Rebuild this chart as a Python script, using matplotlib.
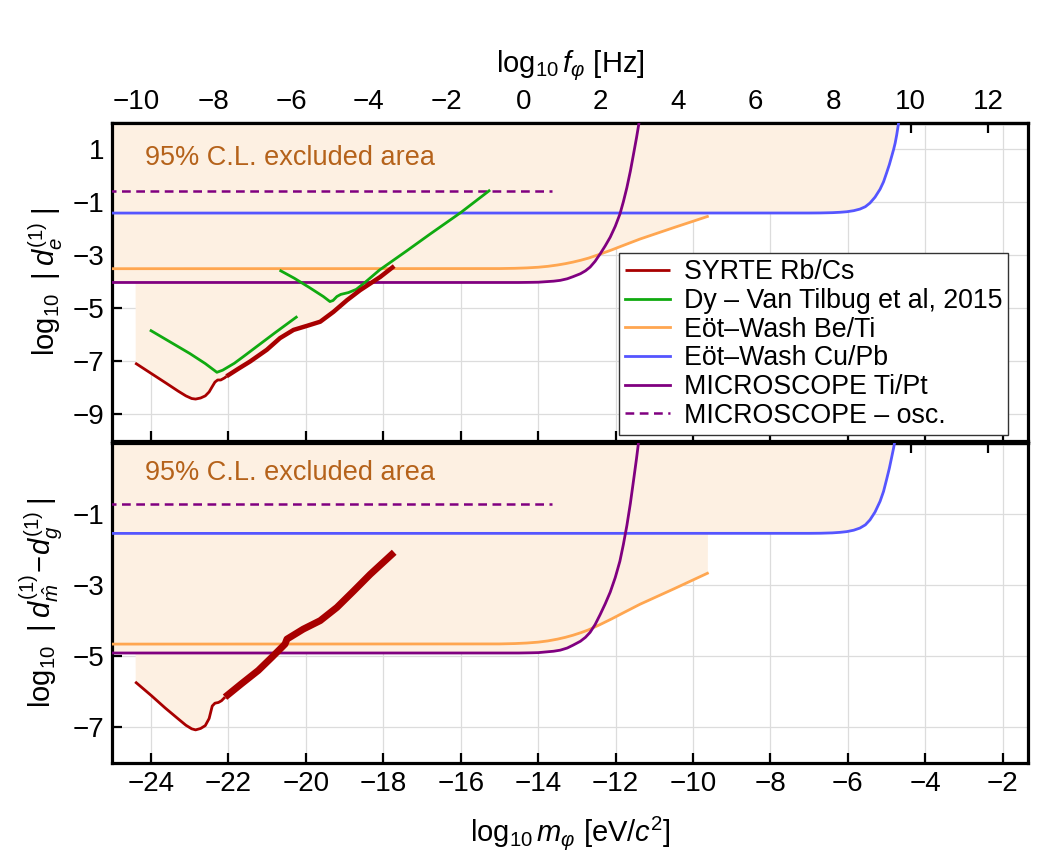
import numpy as np
import matplotlib
matplotlib.use("Agg")
import matplotlib.pyplot as plt

plt.rcParams['font.family'] = ['Liberation Sans', 'DejaVu Sans']
plt.rcParams['mathtext.fontset'] = 'custom'
plt.rcParams['mathtext.rm'] = 'Liberation Sans'
plt.rcParams['mathtext.it'] = 'Liberation Sans:italic'
plt.rcParams['mathtext.bf'] = 'Liberation Sans:bold'

# ---------------- data (log10 m_phi [eV], log10 |coupling|) ----------------
LOG_EV_TO_HZ = 14.383

# top panel : d_e
syrte_e_smooth_m = [-24.41, -24.0, -23.6, -23.3, -23.1, -22.95, -22.85, -22.72, -22.6, -22.5,
                    -22.42, -22.35, -22.28, -22.2, -22.1, -22.05]
syrte_e_smooth_v = [-7.06, -7.45, -7.83, -8.12, -8.30, -8.40, -8.42, -8.38, -8.30, -8.15,
                    -7.95, -7.78, -7.70, -7.70, -7.62, -7.56]
syrte_e_noisy_m = [-22.05, -21.75, -21.44, -21.01, -20.67, -20.32, -19.98, -19.63, -19.29,
                   -18.94, -18.60, -18.08, -17.72]
syrte_e_noisy_v = [-7.56, -7.28, -7.00, -6.56, -6.12, -5.81, -5.66, -5.50, -5.13,
                   -4.69, -4.31, -3.81, -3.40]

dy_left_m = [-24.0, -23.5, -23.0, -22.6, -22.4, -22.3, -22.15, -21.85, -21.6, -21.2, -20.8, -20.25]
dy_left_v = [-5.84, -6.27, -6.70, -7.08, -7.30, -7.41, -7.33, -7.07, -6.80, -6.36, -5.92, -5.33]
dy_right_m = [-20.65, -20.3, -19.9, -19.55, -19.38, -19.3, -19.2, -19.1, -18.9, -18.7, -18.5,
              -18.1, -17.4, -16.8, -16.0, -15.27]
dy_right_v = [-3.58, -3.86, -4.22, -4.55, -4.74, -4.70, -4.55, -4.47, -4.40, -4.28, -4.05,
              -3.55, -2.83, -2.20, -1.38, -0.56]

ew_beti_m = [-25.5, -15.0, -14.6, -14.3, -14.0, -13.75, -13.5, -13.3, -13.1, -12.9, -12.7,
             -12.4, -12.1, -11.8, -11.37, -10.5, -9.63]
ew_beti_e = [-3.50, -3.495, -3.485, -3.47, -3.445, -3.41, -3.36, -3.31, -3.25, -3.18, -3.10,
             -2.95, -2.79, -2.62, -2.38, -1.95, -1.53]
ew_beti_g = [-4.66, -4.655, -4.645, -4.63, -4.605, -4.57, -4.52, -4.47, -4.41, -4.34, -4.26,
             -4.11, -3.95, -3.78, -3.54, -3.11, -2.67]

ew_cupb_m = [-25.5, -7.0, -6.7, -6.4, -6.2, -6.03, -5.85, -5.69, -5.55, -5.43, -5.3, -5.17,
             -5.08, -5.0, -4.93, -4.87, -4.82, -4.78, -4.74, -4.70, -4.66]
ew_cupb_e = [-1.40, -1.398, -1.395, -1.385, -1.37, -1.35, -1.31, -1.25, -1.16, -1.02, -0.80,
             -0.50, -0.22, 0.12, 0.43, 0.74, 1.00, 1.24, 1.55, 1.92, 2.30]
ew_cupb_g = [-1.55, -1.548, -1.545, -1.535, -1.52, -1.50, -1.46, -1.40, -1.31, -1.17, -0.95,
             -0.65, -0.37, -0.03, 0.28, 0.59, 0.85, 1.09, 1.40, 1.77, 2.15]

micro_m = [-25.5, -14.5, -14.2, -14.0, -13.8, -13.6, -13.43, -13.25, -13.1, -12.91, -12.78,
           -12.66, -12.53, -12.40, -12.27, -12.14, -12.01, -11.89, -11.80, -11.71, -11.62,
           -11.54, -11.46, -11.39, -11.33]
micro_e = [-4.02, -4.02, -4.015, -4.01, -3.99, -3.97, -3.94, -3.88, -3.80, -3.69, -3.58,
           -3.44, -3.22, -2.94, -2.64, -2.31, -1.90, -1.44, -0.97, -0.44, 0.18,
           0.81, 1.45, 2.06, 2.55]
micro_g = [-4.91, -4.91, -4.905, -4.90, -4.88, -4.86, -4.83, -4.77, -4.69, -4.58, -4.47,
           -4.33, -4.11, -3.83, -3.53, -3.20, -2.79, -2.33, -1.86, -1.33, -0.71,
           -0.08, 0.56, 1.17, 1.66]

micro_osc_m = [-25.5, -13.64]
micro_osc_e = [-0.56, -0.56]
micro_osc_g = [-0.72, -0.72]

# bottom panel : d_m - d_g
syrte_g_smooth_m = [-24.41, -24.0, -23.64, -23.3, -23.1, -22.95, -22.85, -22.72, -22.6, -22.5,
                    -22.42, -22.35, -22.26, -22.18, -22.09]
syrte_g_smooth_v = [-5.72, -6.10, -6.45, -6.76, -6.94, -7.04, -7.07, -7.03, -6.95, -6.75,
                    -6.40, -6.32, -6.30, -6.25, -6.15]
syrte_g_noisy_m = [-22.09, -21.66, -21.23, -20.88, -20.54, -20.49, -20.07, -19.63, -19.20,
                   -18.77, -18.34, -17.72]
syrte_g_noisy_v = [-6.15, -5.77, -5.40, -5.03, -4.66, -4.52, -4.24, -4.00, -3.63,
                   -3.17, -2.70, -2.08]

labels = ['SYRTE Rb/Cs', 'Dy – Van Tilbug et al, 2015', 'Eöt–Wash Be/Ti',
          'Eöt–Wash Cu/Pb', 'MICROSCOPE Ti/Pt', 'MICROSCOPE – osc.']

# ---------------- styles ----------------
C_SYRTE = '#a80000'
C_DY = '#10aa10'
C_BETI = '#ffa650'
C_CUPB = '#5555ff'
C_MICRO = '#800080'
C_FILL = '#fdf0e2'
C_TXT = '#b5621a'

XLIM = (-25.0, -1.35)

fig = plt.figure(figsize=(10.5, 8.57), dpi=100)
ax1 = fig.add_axes([0.1070, 0.4855, 0.8720, 0.3710])
ax2 = fig.add_axes([0.1070, 0.1097, 0.8720, 0.3738])


def envelope(mgrid, curves, ytop):
    env = np.full_like(mgrid, np.inf)
    for xs, ys in curves:
        env = np.minimum(env, np.interp(mgrid, xs, ys, left=np.inf, right=np.inf))
    return np.minimum(env, ytop)


def panel(ax, ylim, yticks, syrte_s, syrte_n, beti, cupb, micro, osc, noisy_lw, dy=None):
    ax.set_xlim(*XLIM)
    ax.set_ylim(*ylim)
    mgrid = np.linspace(XLIM[0], XLIM[1], 6000)
    curves = [(syrte_s[0] + syrte_n[0][1:], syrte_s[1] + syrte_n[1][1:]),
              (ew_beti_m, beti), (ew_cupb_m, cupb), (micro_m, micro)]
    env = envelope(mgrid, curves, ylim[1])
    ax.fill_between(mgrid, env, ylim[1], where=env < ylim[1], color=C_FILL, lw=0, zorder=1)

    ax.plot(ew_beti_m, beti, color=C_BETI, lw=2.0, zorder=3, label=labels[2])
    ax.plot(ew_cupb_m, cupb, color=C_CUPB, lw=2.0, zorder=3, label=labels[3])
    ax.plot(micro_m, micro, color=C_MICRO, lw=2.0, zorder=4, label=labels[4])
    ax.plot(micro_osc_m, osc, color=C_MICRO, lw=1.8, ls=(0, (3.5, 2.2)), zorder=4, label=labels[5])
    if dy is not None:
        ax.plot(dy[0][0], dy[0][1], color=C_DY, lw=2.0, zorder=5, label=labels[1])
        ax.plot(dy[1][0], dy[1][1], color=C_DY, lw=2.0, zorder=5)
    ax.plot(syrte_s[0], syrte_s[1], color=C_SYRTE, lw=2.0, zorder=6, label=labels[0],
            solid_capstyle='butt')
    ax.plot(syrte_n[0], syrte_n[1], color=C_SYRTE, lw=noisy_lw, zorder=6, solid_capstyle='butt',
            solid_joinstyle='round')

    ax.set_yticks(yticks)
    ax.set_xticks(np.arange(-24, -1, 2))
    ax.grid(True, color='#dcdcdc', lw=0.9)
    ax.set_axisbelow(True)
    for s in ax.spines.values():
        s.set_linewidth(2.3)
    ax.tick_params(direction='in', length=7, width=1.6, labelsize=20, top=False, right=False,
                   pad=6)

    sec = ax.secondary_xaxis('top', functions=(lambda m: m + LOG_EV_TO_HZ,
                                               lambda f: f - LOG_EV_TO_HZ))
    sec.set_xticks(np.arange(-10, 13, 2))
    sec.tick_params(direction='in', length=7, width=1.6, labelsize=20, pad=6)
    sec.spines['top'].set_linewidth(2.3)
    return sec


sec1 = panel(ax1, (-10, 2), [1, -1, -3, -5, -7, -9],
             (syrte_e_smooth_m, syrte_e_smooth_v), (syrte_e_noisy_m, syrte_e_noisy_v),
             ew_beti_e, ew_cupb_e, micro_e, micro_osc_e, 3.2,
             dy=((dy_left_m, dy_left_v), (dy_right_m, dy_right_v)))
sec2 = panel(ax2, (-8, 1), [-1, -3, -5, -7],
             (syrte_g_smooth_m, syrte_g_smooth_v), (syrte_g_noisy_m, syrte_g_noisy_v),
             ew_beti_g, ew_cupb_g, micro_g, micro_osc_g, 5.0)

ax1.tick_params(labelbottom=False)
sec2.tick_params(labeltop=False)

sec1.set_xlabel(r'$\mathrm{log}_{10}\,f_{\varphi}$ [Hz]', fontsize=21, labelpad=12)
ax2.set_xlabel(r'$\mathrm{log}_{10}\,m_{\varphi}$ [eV/$c^2$]', fontsize=21, labelpad=12)
ax1.set_ylabel(r'$\mathrm{log}_{10}\;\;|\;d^{(1)}_{e}\;|$', fontsize=21)
ax2.set_ylabel(r'$\mathrm{log}_{10}\;\;|\;d^{(1)}_{\hat{m}}\!-\!d^{(1)}_{g}\;|$', fontsize=21)
ax1.yaxis.set_label_coords(-0.052, 0.5)
ax2.yaxis.set_label_coords(-0.052, 0.5)

ax1.text(-24.15, 0.67, '95% C.L. excluded area', color=C_TXT, fontsize=19.5, va='center', ha='left',
         zorder=7)
ax2.text(-24.15, 0.15, '95% C.L. excluded area', color=C_TXT, fontsize=19.5, va='center', ha='left',
         zorder=7)

h, l = ax1.get_legend_handles_labels()
order = [labels.index(x) for x in l]
hl = sorted(zip(order, h, l))
leg = ax1.legend([x[1] for x in hl], [x[2] for x in hl], loc='upper left',
                 bbox_to_anchor=(0.553, 0.59), borderaxespad=0, fontsize=19.3,
                 frameon=True, fancybox=False, edgecolor='#333333', framealpha=1,
                 handlelength=1.7, handletextpad=0.5, labelspacing=0.1, borderpad=0.22)
leg.get_frame().set_linewidth(1.0)
leg.set_zorder(10)

fig.savefig('out.png', dpi=100)
